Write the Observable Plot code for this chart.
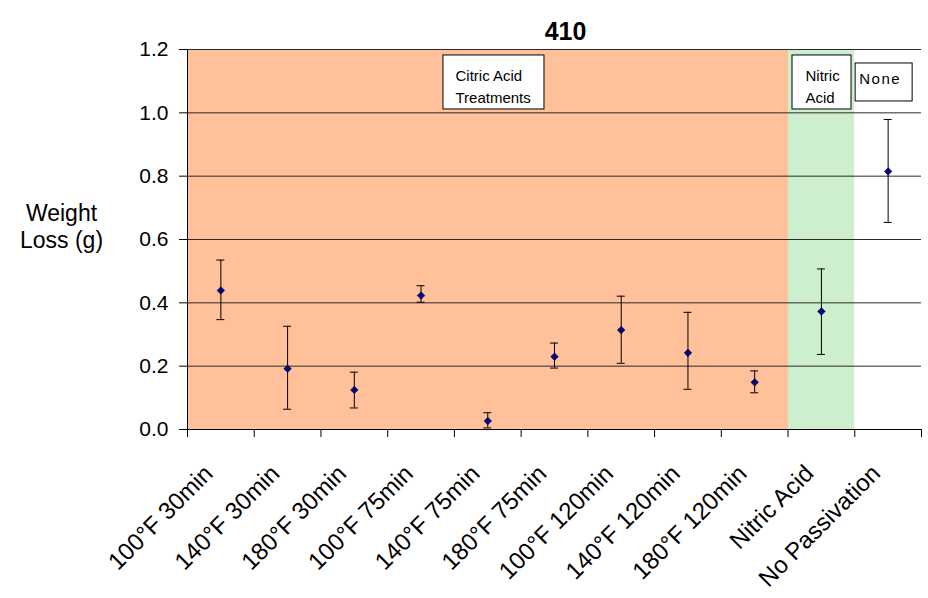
<!DOCTYPE html>
<html>
<head>
<meta charset="utf-8">
<script src="https://cdn.jsdelivr.net/npm/d3@7"></script>
<script src="https://cdn.jsdelivr.net/npm/@observablehq/plot@0.6"></script>
<style>
  html, body { margin: 0; padding: 0; background: #fff; }
  #chart { width: 928px; height: 598px; }
</style>
</head>
<body>
<div id="chart"></div>
<script>
// ---- data ----
const categories = ["100°F 30min", "140°F 30min", "180°F 30min", "100°F 75min", "140°F 75min",
  "180°F 75min", "100°F 120min", "140°F 120min", "180°F 120min", "Nitric Acid", "No Passivation"];
const means = [0.439, 0.192, 0.125, 0.423, 0.027, 0.230, 0.314, 0.242, 0.149, 0.373, 0.815];
const lows  = [0.347, 0.064, 0.068, 0.402, 0.005, 0.194, 0.209, 0.127, 0.116, 0.237, 0.654];
const highs = [0.535, 0.326, 0.181, 0.454, 0.053, 0.273, 0.421, 0.370, 0.185, 0.507, 0.979];
const yTicks = [0, 0.2, 0.4, 0.6, 0.8, 1.0, 1.2];

const groupLabels = ["Citric Acid\nTreatments", "Nitric\nAcid", "None"];
const groupFirst = [0, 9, 10];
const groupLast  = [8, 9, 10];
const groupColors = ["#FFC09A", "#CDEFCE", "#FFFFFF"];
const groupLabelY = [1.1, 1.1, 1.1];

const title = "410";
const yLabel = "Weight\nLoss (g)";

// ---- table built from arrays ----
const rows = categories.map((c, i) => ({cat: c, pos: i + 0.5, mean: means[i], lo: lows[i], hi: highs[i]}));
const groups = groupLabels.map((g, i) => ({label: g, x1: groupFirst[i], x2: groupLast[i] + 1,
  mid: (groupFirst[i] + groupLast[i] + 1) / 2, fill: groupColors[i], y: groupLabelY[i]}));

// box styles (pixel insets) per group
const boxStyle = [
  {l: -44.3, r: -56.7, t: -25.7, b: -28.3, anchor: "start", dx: -32.3, dy: 3.5},
  {l: -28.9, r: -30.1, t: -25.7, b: -28.3, anchor: "start", dx: -15.9, dy: 3.5},
  {l: -32.5, r: -24.5, t: -17.7, b: -20.3, anchor: "middle", dx: -8, dy: -4.5}
];

const font = "'Liberation Sans', Arial, sans-serif";

const marks = [
  // background regions
  Plot.rect(groups, {x1: "x1", x2: "x2", y1: 0, y2: 1.2, fill: "fill", shapeRendering: "crispEdges"}),
  // gridlines
  Plot.ruleY(yTicks.slice(1), {stroke: "#2a2a2a", strokeWidth: 1}),
  // axes
  Plot.ruleY([0], {stroke: "#000"}),
  Plot.ruleX([0], {y1: 0, y2: 1.2, stroke: "#000"}),
  Plot.axisY({ticks: yTicks, tickSize: 8, tickPadding: 11, tickFormat: d3.format(".1f"), fontSize: 21, label: null}),
  Plot.axisX({ticks: d3.range(categories.length + 1), tickSize: 8, tickFormat: () => "", label: null}),
  // x labels
  Plot.text(rows, {x: "pos", y: () => 0, text: "cat", rotate: -45, textAnchor: "end", lineAnchor: "middle",
    dx: -12, dy: 40, fontSize: 24}),
  // error bars
  Plot.ruleX(rows, {x: "pos", y1: "lo", y2: "hi", stroke: "#000", strokeWidth: 1}),
  Plot.ruleY(rows, {y: "hi", x1: "pos", x2: "pos", insetLeft: -4, insetRight: -4, stroke: "#000"}),
  Plot.ruleY(rows, {y: "lo", x1: "pos", x2: "pos", insetLeft: -4, insetRight: -4, stroke: "#000"}),
  // points
  Plot.dot(rows, {x: "pos", y: "mean", symbol: "diamond2", r: 3.4, fill: "#000080", stroke: "#000040", strokeWidth: 0.6}),
  // title
  Plot.text([title], {frameAnchor: "top", dx: 11, dy: -27, fontSize: 25, fontWeight: "bold"}),
  // y label
  Plot.text([yLabel], {frameAnchor: "left", dx: -126, dy: -14, fontSize: 23, lineHeight: 1.2, textAnchor: "middle"})
];

groups.forEach((g, i) => {
  const s = boxStyle[i];
  marks.push(Plot.rect([g], {x1: "mid", x2: "mid", y1: "y", y2: "y",
    insetLeft: s.l, insetRight: s.r, insetTop: s.t, insetBottom: s.b,
    fill: "#fff", stroke: "#000", strokeWidth: 1}));
  marks.push(Plot.text([g], {x: "mid", y: "y", text: "label", textAnchor: s.anchor, lineAnchor: "middle",
    dx: s.dx, dy: s.dy, fontSize: 15, lineHeight: 1.467}));
});

const chart = Plot.plot({
  width: 928,
  height: 598,
  marginLeft: 187,
  marginRight: 7,
  marginTop: 49,
  marginBottom: 169,
  x: {type: "linear", domain: [0, categories.length]},
  y: {domain: [0, 1.2]},
  style: {fontFamily: font, fontSize: "21px", color: "#000", background: "#fff"},
  marks
});

d3.select(chart).selectAll("text").filter(function() { return this.textContent === "None"; })
  .style("letter-spacing", "1.5px");

document.getElementById("chart").appendChild(chart);
</script>
</body>
</html>
